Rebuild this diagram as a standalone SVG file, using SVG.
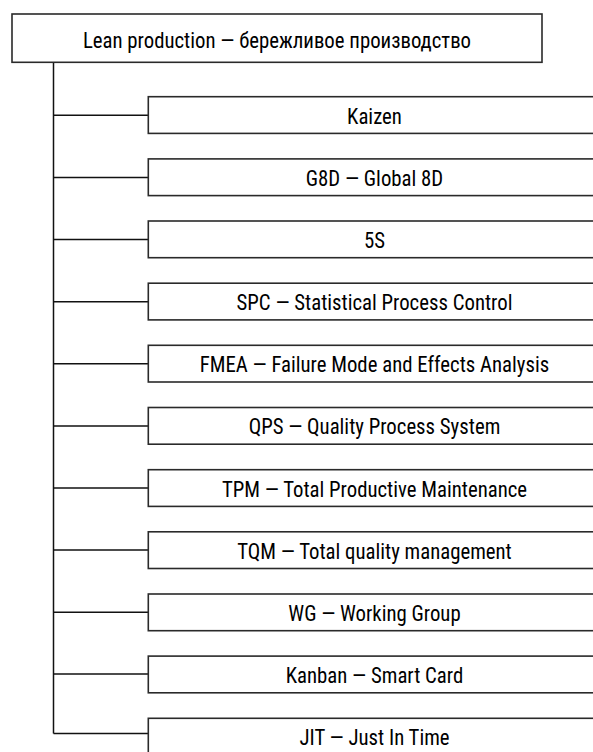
<svg xmlns="http://www.w3.org/2000/svg" width="593" height="752" viewBox="0 0 593 752">
<style>
rect.box{fill:#fff;stroke:#2a2a2a;stroke-width:1.6}
text{font-family:"Liberation Sans Narrow","Roboto Condensed","DejaVu Sans Condensed","Liberation Sans",sans-serif;font-size:22px;fill:#000;text-anchor:middle}
.conn path{fill:none;stroke:#111;stroke-width:1.5}
</style>
<rect width="593" height="752" fill="#fff"/>
<g class="conn">
<path d="M53.5 62.5V733.5"/>
<path d="M53.5 115.3H148"/>
<path d="M53.5 177.5H148"/>
<path d="M53.5 239.6H148"/>
<path d="M53.5 301.7H148"/>
<path d="M53.5 363.8H148"/>
<path d="M53.5 425.9H148"/>
<path d="M53.5 488H148"/>
<path d="M53.5 550.1H148"/>
<path d="M53.5 612.2H148"/>
<path d="M53.5 673.9H148"/>
<path d="M53.5 733.5H148"/>
</g>
<g id="root"><rect class="box" x="12" y="14" width="530" height="48.3"/><text transform="translate(277 47.5) scale(0.945 1)">Lean production — бережливое производство</text></g>
<g id="n1"><rect class="box" x="148.3" y="96.7" width="460" height="36.7"/><text transform="translate(374.5 123.5) scale(0.945 1)">Kaizen</text></g>
<g id="n2"><rect class="box" x="148.3" y="158.9" width="460" height="36.7"/><text transform="translate(374.5 185.7) scale(0.945 1)">G8D — Global 8D</text></g>
<g id="n3"><rect class="box" x="148.3" y="221" width="460" height="36.7"/><text transform="translate(374.5 247.8) scale(0.945 1)">5S</text></g>
<g id="n4"><rect class="box" x="148.3" y="283.2" width="460" height="36.7"/><text transform="translate(374.5 310) scale(0.945 1)">SPC — Statistical Process Control</text></g>
<g id="n5"><rect class="box" x="148.3" y="345.3" width="460" height="36.7"/><text transform="translate(374.5 372.3) scale(0.945 1)">FMEA — Failure Mode and Effects Analysis</text></g>
<g id="n6"><rect class="box" x="148.3" y="407.5" width="460" height="36.7"/><text transform="translate(374.5 434.3) scale(0.945 1)">QPS — Quality Process System</text></g>
<g id="n7"><rect class="box" x="148.3" y="469.7" width="460" height="36.7"/><text transform="translate(374.5 496.5) scale(0.945 1)">TPM — Total Productive Maintenance</text></g>
<g id="n8"><rect class="box" x="148.3" y="531.8" width="460" height="36.7"/><text transform="translate(374.5 558.6) scale(0.945 1)">TQM — Total quality management</text></g>
<g id="n9"><rect class="box" x="148.3" y="594" width="460" height="36.7"/><text transform="translate(374.5 620.8) scale(0.945 1)">WG — Working Group</text></g>
<g id="n10"><rect class="box" x="148.3" y="656.1" width="460" height="36.7"/><text transform="translate(374.5 682.9) scale(0.945 1)">Kanban — Smart Card</text></g>
<g id="n11"><rect class="box" x="148.3" y="718.3" width="460" height="36.7"/><text transform="translate(374.5 745.1) scale(0.945 1)">JIT — Just In Time</text></g>
</svg>
